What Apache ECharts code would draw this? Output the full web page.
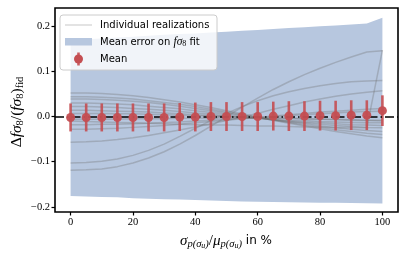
<!DOCTYPE html>
<html><head><meta charset="utf-8">
<script src="https://cdn.jsdelivr.net/npm/echarts@6/dist/echarts.min.js"></script>
<style>html,body{margin:0;padding:0;background:#fff}#c{width:407px;height:256px}</style>
</head><body><div id="c"></div>
<script>
// ---- data ----
const xValues = [0,5,10,15,20,25,30,35,40,45,50,55,60,65,70,75,80,85,90,95,100];
const bandUpper = [0.169,0.171,0.173,0.175,0.177,0.179,0.181,0.183,0.184,0.186,0.188,0.190,0.192,0.194,0.196,0.198,0.200,0.202,0.204,0.206,0.219];
const bandLower = [-0.176,-0.177,-0.178,-0.179,-0.181,-0.182,-0.183,-0.184,-0.185,-0.186,-0.187,-0.188,-0.189,-0.1895,-0.190,-0.1905,-0.191,-0.1912,-0.1915,-0.192,-0.1924];
const meanValues = [-0.002,-0.002,-0.002,-0.002,-0.002,-0.002,-0.002,-0.001,-0.001,0,0,0,0,0.001,0.001,0.001,0.002,0.002,0.003,0.003,0.013];
const meanErrors = [0.031,0.031,0.031,0.031,0.031,0.031,0.031,0.031,0.032,0.032,0.032,0.032,0.032,0.032,0.033,0.033,0.033,0.033,0.033,0.033,0.034];
const realA = [-0.119,-0.118,-0.116,-0.111,-0.103,-0.092,-0.078,-0.061,-0.042,-0.021,0.000,0.021,0.041,0.060,0.077,0.093,0.107,0.120,0.132,0.143,0.146];
const realB = [-0.103,-0.102,-0.099,-0.094,-0.086,-0.075,-0.061,-0.044,-0.026,-0.009,0.007,0.022,0.035,0.046,0.055,0.062,0.068,0.073,0.077,0.079,0.080];
const realC = [-0.057,-0.056,-0.054,-0.051,-0.047,-0.042,-0.036,-0.030,-0.023,-0.016,-0.009,-0.001,0.007,0.016,0.024,0.032,0.039,0.045,0.050,0.054,0.057];
const realD = [-0.010,-0.011,-0.012,-0.013,-0.014,-0.015,-0.016,-0.017,-0.018,-0.019,-0.019,-0.020,-0.021,-0.021,-0.022,-0.023,-0.023,-0.024,-0.024,-0.025,0.147];
const realE = [0.052,0.052,0.051,0.049,0.046,0.042,0.037,0.032,0.026,0.020,0.013,0.006,-0.001,-0.008,-0.015,-0.021,-0.027,-0.033,-0.038,-0.043,-0.047];
const realF = [0.044,0.044,0.043,0.041,0.039,0.035,0.031,0.027,0.022,0.016,0.010,0.004,-0.002,-0.008,-0.013,-0.019,-0.024,-0.029,-0.033,-0.037,-0.040];
const realG = [0.039,0.039,0.038,0.036,0.034,0.031,0.027,0.023,0.018,0.013,0.008,0.003,-0.002,-0.007,-0.012,-0.016,-0.021,-0.025,-0.028,-0.031,-0.033];
const realH = [0.030,0.030,0.029,0.028,0.026,0.023,0.020,0.017,0.013,0.009,0.005,0.001,-0.003,-0.007,-0.011,-0.014,-0.017,-0.020,-0.022,-0.024,-0.025];
const realI = [0.022,0.022,0.021,0.020,0.018,0.016,0.014,0.011,0.008,0.005,0.002,-0.001,-0.004,-0.007,-0.010,-0.012,-0.014,-0.016,-0.018,-0.019,-0.020];
const realJ = [0.014,0.014,0.013,0.012,0.011,0.010,0.008,0.006,0.004,0.002,0.000,-0.002,-0.004,-0.006,-0.008,-0.009,-0.011,-0.012,-0.013,-0.014,-0.014];
const realK = [0.007,0.007,0.007,0.006,0.006,0.005,0.004,0.003,0.002,0.001,0.000,-0.001,-0.002,-0.003,-0.004,-0.005,-0.006,-0.006,-0.007,-0.008,-0.008];
const realL = [-0.006,-0.006,-0.006,-0.006,-0.005,-0.005,-0.005,-0.004,-0.004,-0.003,-0.003,-0.003,-0.003,-0.004,-0.004,-0.005,-0.006,-0.007,-0.008,-0.009,-0.010];
const realM = [-0.018,-0.018,-0.017,-0.017,-0.016,-0.015,-0.013,-0.012,-0.010,-0.008,-0.006,-0.004,-0.002,0.000,0.002,0.004,0.006,0.008,0.010,0.011,0.012];
const realN = [-0.028,-0.028,-0.027,-0.026,-0.024,-0.022,-0.020,-0.017,-0.014,-0.011,-0.008,-0.005,-0.002,0.001,0.004,0.007,0.010,0.012,0.014,0.016,0.018];
const realizations = [realA,realB,realC,realD,realE,realF,realG,realH,realI,realJ,realK,realL,realM,realN];
const xTicks = [0,20,40,60,80,100];
const yTicks = [-0.2,-0.1,0.0,0.1,0.2];

// ---- styles ----
const BAND = '#b7c7df';
const RED = '#c44e52';
const LINE_GREY = 'rgba(110,110,110,0.32)';
const SERIF = 'Liberation Serif';

const pairs = arr => arr.map((v,i)=>[xValues[i], v]);

const series = [];
// error band as one polygon (upper edge forward, lower edge back)
series.push({type:'custom', name:'Mean error on fσ8 fit', z:1, silent:true, clip:true,
  data: xValues.map((x,i)=>[x, bandUpper[i], bandLower[i]]),
  renderItem:(params, api)=>{
    if (params.dataIndex !== 0) return null;
    const pts = [];
    for (let i=0;i<xValues.length;i++) pts.push(api.coord([xValues[i], bandUpper[i]]));
    for (let i=xValues.length-1;i>=0;i--) pts.push(api.coord([xValues[i], bandLower[i]]));
    return {type:'polygon', shape:{points:pts}, style:{fill:BAND}};
  }});
realizations.forEach(r=>{
  series.push({type:'line', name:'Individual realizations', data:pairs(r), symbol:'none',
    lineStyle:{color:LINE_GREY, width:1.5}, silent:true, z:2});
});
// zero line
series.push({type:'line', name:'zero', data:[], silent:true, z:3,
  markLine:{silent:true, symbol:['none','none'], label:{show:false},
    lineStyle:{color:'#000', width:1.5, type:[9,3,1.5,3]}, data:[{yAxis:0}]}});
// error bars
series.push({type:'custom', name:'Mean', z:4, silent:true,
  data: xValues.map((x,i)=>[x, meanValues[i], meanErrors[i]]),
  renderItem:(params, api)=>{
    const x = api.value(0), y = api.value(1), e = api.value(2);
    const p1 = api.coord([x, y+e]), p2 = api.coord([x, y-e]);
    return {type:'line', shape:{x1:p1[0], y1:p1[1], x2:p2[0], y2:p2[1]},
      style:{stroke:RED, lineWidth:2.6, opacity:0.9}};
  }});
series.push({type:'scatter', name:'Mean', z:5, data:pairs(meanValues), symbol:'circle', symbolSize:9,
  itemStyle:{color:RED, opacity:0.95}, silent:true});

const tickLabelStyle = {fontFamily:SERIF, fontSize:10.5, color:'#000'};

const option = {
  animation:false,
  backgroundColor:'#fff',
  grid:{left:55, top:8, right:9, bottom:44, show:true, borderColor:'#000', borderWidth:1.6, backgroundColor:'transparent'},
  xAxis:{type:'value', min:-5, max:105,
    axisLine:{show:false, onZero:false}, splitLine:{show:false},
    axisTick:{show:true, customValues:xTicks, length:3.5, inside:false, lineStyle:{color:'#000', width:1.2}},
    axisLabel:{customValues:xTicks, margin:5, ...tickLabelStyle, formatter:v=>String(v)}},
  yAxis:{type:'value', min:-0.2115, max:0.2405,
    axisLine:{show:false, onZero:false}, splitLine:{show:false},
    axisTick:{show:true, customValues:yTicks, length:3.5, lineStyle:{color:'#000', width:1.2}},
    axisLabel:{customValues:yTicks, margin:5, ...tickLabelStyle,
      formatter:v=>(v<0?'\u2212':'')+Math.abs(v).toFixed(1)}},
  series,
  graphic:[
    // legend box
    {type:'rect', shape:{x:60, y:15, width:157, height:55, r:3}, z:100,
      style:{fill:'rgba(255,255,255,0.8)', stroke:'#cccccc', lineWidth:1}},
    {type:'line', shape:{x1:65, y1:25, x2:92, y2:25}, z:101, style:{stroke:'rgba(128,128,128,0.3)', lineWidth:1.5}},
    {type:'rect', shape:{x:65, y:38, width:27, height:7.5}, z:101, style:{fill:BAND}},
    {type:'line', shape:{x1:78.5, y1:52.5, x2:78.5, y2:65.5}, z:101, style:{stroke:RED, lineWidth:2.6, opacity:0.9}},
    {type:'circle', shape:{cx:78.5, cy:59, r:4.5}, z:102, style:{fill:RED}},
    {type:'text', x:100, y:25, z:103, style:{text:'Individual realizations', fontFamily:'DejaVu Sans', fontSize:10, fill:'#000', verticalAlign:'middle'}},
    {type:'text', x:100, y:42, z:103, style:{
      text:'{t|Mean error on }{m|fσ}{s|8}{t| fit}',
      verticalAlign:'middle',
      rich:{t:{fontFamily:'DejaVu Sans', fontSize:10, fill:'#000'},
            m:{fontFamily:SERIF, fontStyle:'italic', fontSize:11.5, fill:'#000'},
            s:{fontFamily:SERIF, fontSize:8, fill:'#000', padding:[4,0,0,0]}}}},
    {type:'text', x:100, y:59, z:103, style:{text:'Mean', fontFamily:'DejaVu Sans', fontSize:10, fill:'#000', verticalAlign:'middle'}},
    // y label
    {type:'text', x:17, y:112, rotation:Math.PI/2, z:103, style:{
      text:'{u|Δ}{m|fσ}{s|8}{u|/(}{m|fσ}{s|8}{u|)}{s|fid}',
      align:'center', verticalAlign:'middle',
      rich:{u:{fontFamily:SERIF, fontSize:15.5, fill:'#000'},
            m:{fontFamily:SERIF, fontStyle:'italic', fontSize:15.5, fill:'#000'},
            s:{fontFamily:SERIF, fontSize:10.5, fill:'#000', padding:[6,0,0,0]}}}},
    // x label
    {type:'text', x:226, y:241, z:103, style:{
      text:'{m|σ}{s|p(σ}{ss|u}{s|)}{u|/}{m|μ}{s|p(σ}{ss|u}{s|)}{t| in %}',
      align:'center', verticalAlign:'middle',
      rich:{u:{fontFamily:SERIF, fontSize:15, fill:'#000'},
            m:{fontFamily:SERIF, fontStyle:'italic', fontSize:15, fill:'#000'},
            s:{fontFamily:SERIF, fontStyle:'italic', fontSize:10.5, fill:'#000', padding:[7,0,0,0]},
            ss:{fontFamily:SERIF, fontStyle:'italic', fontSize:8, fill:'#000', padding:[10,0,0,0]},
            t:{fontFamily:'DejaVu Sans', fontSize:12, fill:'#000'}}}}
  ]
};
const chart = echarts.init(document.getElementById('c'), null, {renderer:'canvas'});
chart.setOption(option);
</script></body></html>
